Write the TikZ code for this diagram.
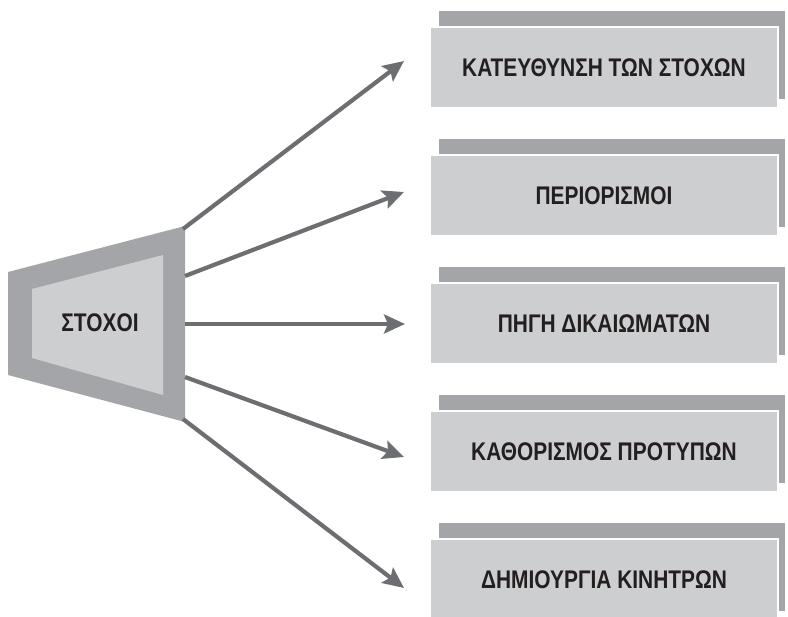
\documentclass[tikz,border=0pt]{standalone}
\usepackage{fontspec}
\setmainfont[FakeStretch=0.82]{Liberation Sans}
\usetikzlibrary{arrows.meta,backgrounds}

\definecolor{boxfill}{HTML}{CDCED0}
\definecolor{boxshade}{HTML}{A4A5A8}
\definecolor{arrowgray}{HTML}{6D6E71}
\definecolor{inkdark}{HTML}{231F20}

\tikzset{
  label font/.style={text=inkdark, font=\fontsize{25.5}{28}\selectfont\bfseries,
    text height=18pt, text depth=0pt},
  topic/.style={label font, fill=boxfill, draw=white, line width=1.5pt,
    minimum width=348pt, minimum height=81pt, inner sep=0pt},
  shade/.style={fill=boxshade},
  link/.style={draw=arrowgray, line width=4.2pt,
    -{Stealth[length=21pt,width=19pt,inset=4pt]}},
}

\begin{document}
\begin{tikzpicture}[x=1pt,y=-1pt]
\useasboundingbox (0,0) rectangle (788,617);

% goal trapezoid: outer frame and inner panel
\fill[boxshade] (8,272) -- (185,226) -- (185,422) -- (8,375) -- cycle;
\fill[boxfill] (32,289) -- (163,255) -- (163,395) -- (32,358) -- cycle;
\node[label font] (goal) at (100,323) {ΣΤΟΧΟΙ};

% start points on the right edge of the trapezoid
\coordinate (s1) at (183,229);
\coordinate (s2) at (185,276);
\coordinate (s3) at (185,324);
\coordinate (s4) at (185,377);
\coordinate (s5) at (183,419);

% topic boxes
\node[topic] (b1) at (604,67.5)  {ΚΑΤΕΥΘΥΝΣΗ ΤΩΝ ΣΤΟΧΩΝ};
\node[topic] (b2) at (604,195.5) {ΠΕΡΙΟΡΙΣΜΟΙ};
\node[topic] (b3) at (604,323.5) {ΠΗΓΗ ΔΙΚΑΙΩΜΑΤΩΝ};
\node[topic] (b4) at (604,451.5) {ΚΑΘΟΡΙΣΜΟΣ ΠΡΟΤΥΠΩΝ};
\node[topic] (b5) at (604,579.5) {ΔΗΜΙΟΥΡΓΙΑ ΚΙΝΗΤΡΩΝ};

% offset shading behind each box
\begin{scope}[on background layer]
  \foreach \b in {b1,b2,b3,b4,b5}
    \fill[shade] ([xshift=10pt,yshift=15pt]\b.north west)
      rectangle ([xshift=6pt,yshift=10pt]\b.south east);
\end{scope}

% arrow tips just left of each box
\coordinate (t1) at (404,61);
\coordinate (t2) at (404,192);
\coordinate (t3) at (405,324);
\coordinate (t4) at (404,457);
\coordinate (t5) at (404,588);

\foreach \i in {1,...,5}
  \draw[link] (s\i) -- (t\i);
\end{tikzpicture}
\end{document}
